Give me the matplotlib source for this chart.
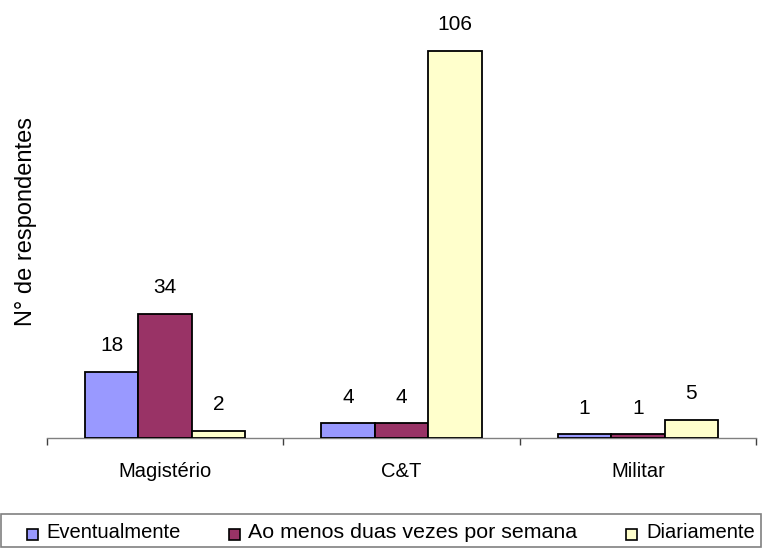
import matplotlib
matplotlib.use("Agg")
import matplotlib.pyplot as plt
from matplotlib.patches import Rectangle
import numpy as np

plt.rcParams['font.family'] = ['Liberation Sans', 'DejaVu Sans']

categories = ["Magistério", "C&T", "Militar"]
series_names = ["Eventualmente", "Ao menos duas vezes por semana", "Diariamente"]
eventualmente = [18, 4, 1]
duas_vezes = [34, 4, 1]
diariamente = [2, 106, 5]
series_values = [eventualmente, duas_vezes, diariamente]
colors = ["#9999FF", "#993366", "#FFFFCC"]

W, H = 762, 548
fig = plt.figure(figsize=(W / 100, H / 100), dpi=100)
ax_left, ax_right, ax_bottom, ax_top = 47, 756, 438, 10
ax = fig.add_axes([ax_left / W, (H - ax_bottom) / H,
                   (ax_right - ax_left) / W, (ax_bottom - ax_top) / H])

px_per_unit = 387 / 106
ax.set_ylim(0, (ax_bottom - ax_top) / px_per_unit)
ax.set_xlim(0, len(categories))

x = np.arange(len(categories)) + 0.5
bw = 0.226
fs = 14.5
for i, (vals, c) in enumerate(zip(series_values, colors)):
    pos = x + (i - 1) * bw
    ax.bar(pos, vals, width=bw, color=c, edgecolor="black", linewidth=1.3, zorder=3)
    for xp, v in zip(pos, vals):
        ax.annotate(str(v), (xp, v), xytext=(0, 15), textcoords="offset points",
                    ha="center", va="baseline", fontsize=15)

for s in ["top", "right", "left"]:
    ax.spines[s].set_visible(False)
ax.spines["bottom"].set_color("#808080")
ax.spines["bottom"].set_linewidth(1.0)
ax.set_yticks([])
ax.set_xticks(np.arange(len(categories) + 1))
ax.set_xticklabels([])
ax.tick_params(axis="x", which="major", length=5, direction="out", color="#404040", width=1)
ax.set_xticks(x, minor=True)
ax.set_xticklabels(categories, minor=True, fontsize=fs)
ax.tick_params(axis="x", which="minor", length=0, pad=17)

fig.text(26 / W, 1 - 222 / H, "N° de respondentes", rotation=90, ha="center", va="center", fontsize=17)

# legend box
fig.patches.append(Rectangle((1 / W, 1 - 547 / H), 760 / W, 33 / H, transform=fig.transFigure,
                             facecolor="white", edgecolor="#808080", linewidth=1.2))
marker_x = [27, 229, 626]
text_x = [46, 248, 646]
label_sizes = [fs, 15.4, fs]
ly = 532
for name, c, mx, tx, lfs in zip(series_names, colors, marker_x, text_x, label_sizes):
    fig.patches.append(Rectangle((mx / W, 1 - 540 / H), 11 / W, 11 / H, transform=fig.transFigure,
                                 facecolor=c, edgecolor="black", linewidth=1.2))
    fig.text(tx / W, 1 - ly / H, name, ha="left", va="center", fontsize=lfs)

fig.savefig("out.png", dpi=100)
